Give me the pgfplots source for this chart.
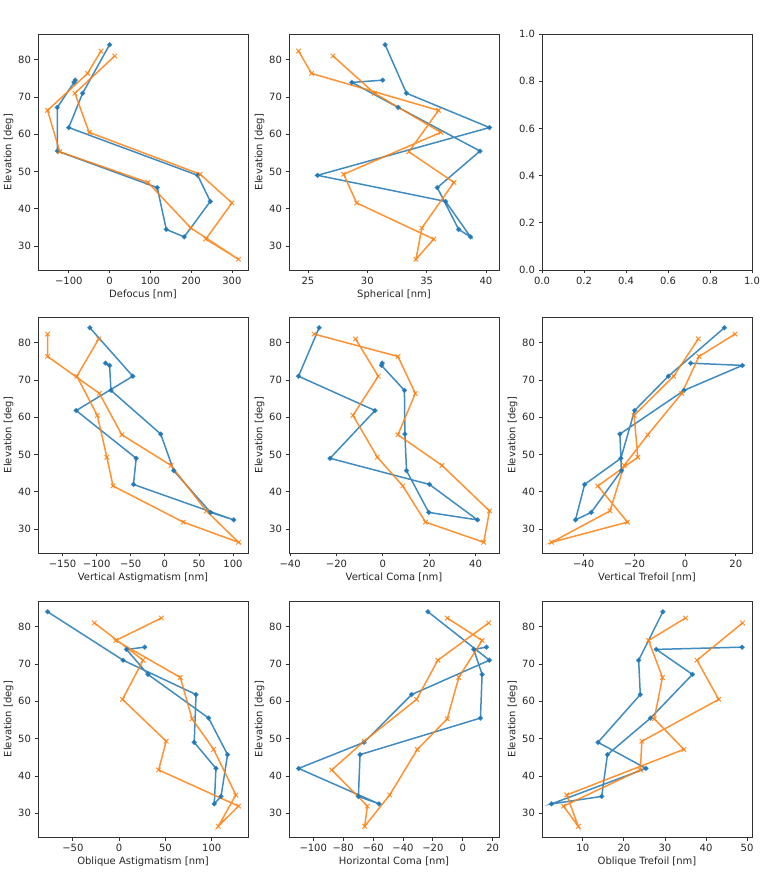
\documentclass[border=0pt]{standalone}
\usepackage{fontspec}
\setmainfont{DejaVu Sans}
\usepackage{pgfplots}
\usepackage{pgfplotstable}
\pgfplotsset{compat=1.18}
\definecolor{mblue}{HTML}{1F77B4}
\definecolor{morange}{HTML}{FF7F0E}

% columns: el defocus spherical vastig vcoma vtrefoil oastig hcoma otrefoil
\pgfplotstableread{
el   def  sph  vas  vco   vtr   oas    hco    otr
84.0 0    31.5 -110 -27.5 15.5  -77.3  -23.3  29.5
71.0 -66  33.3 -47  -36.4 -6.6  4.3    17.8   23.6
61.8 -100 40.3 -130 -3.4  -19.9 83.0   -34.2  24.0
49.0 216  25.8 -42  -22.8 -25.3 81.0   -66.0  13.7
42.0 247  36.6 -46  20.1  -39.6 104.5  -109.8 25.4
32.5 183  38.7 101  40.8  -43.2 102.7  -56.0  2.4
34.5 139  37.7 67   19.8  -37.0 110.0  -69.8  14.6
45.7 117  35.9 13   10.2  -25.1 117.0  -68.7  16.0
55.5 -128 39.5 -6   9.5   -25.7 96.6   11.8   26.5
67.2 -128 32.6 -79  9.3   -0.4  31.1   12.9   36.7
73.9 -87  28.7 -81  -0.6  22.6  7.9    7.3    27.9
74.5 -84  31.3 -87  -0.3  2.2   27.6   15.8   48.8
}\tblue
\pgfplotstableread{
el   def  sph  vas  vco   vtr   oas    hco    otr
82.3 -21  24.2 -172 -29.7 19.7  45.5   -10.4  35.0
76.3 -54  25.3 -172 6.5   5.5   -3.6   12.9   26.0
66.4 -152 36.0 -96  14.0  -1.3  66.0   -2.7   29.4
55.3 -122 33.5 -63  6.5   -14.7 78.7   -10.4  27.4
47.1 94   37.3 9    25.5  -24.0 102.0  -30.4  34.6
34.9 199  34.6 61   46.0  -29.6 126.0  -48.9  6.1
26.5 316  34.1 108  43.5  -52.6 107.0  -65.6  8.9
31.9 236  35.6 27   18.4  -22.7 128.8  -63.8  5.3
41.6 300  29.1 -76  8.6   -34.4 42.6   -87.6  24.0
49.3 222  28.0 -85  -2.4  -18.6 50.8   -66.0  24.4
60.5 -50  36.2 -99  -12.9 -20.1 3.6    -30.9  43.1
71.0 -85  30.6 -129 -2.0  -4.5  25.8   -16.7  37.8
81.0 13   27.1 -97  -11.8 5.2   -26.8  17.3   48.9
}\torange

\pgfplotsset{
  panel/.style={
    width=210pt, height=236pt, scale only axis,
    axis line style={black!80, line width=0.8pt},
    tick style={black!80, line width=0.8pt},
    tick align=outside, major tick length=3.5pt,
    xtick pos=bottom, ytick pos=left,
    ymin=23.625, ymax=86.875,
    ytick={30,40,50,60,70,80},
    ylabel={Elevation [deg]},
    /pgf/number format/assume math mode=true,
    ticklabel style={font=\fontsize{10}{12}\selectfont, text=black!85},
    label style={font=\fontsize{10}{12}\selectfont, text=black!85},
    xlabel style={yshift=2pt},
    ylabel style={yshift=-2pt},
    anchor=south west,
  },
  sb/.style={color=mblue, line width=1.5pt, opacity=0.85, mark=*, mark size=1.7pt, mark options={solid}},
  so/.style={color=morange, line width=1.5pt, opacity=0.85, mark=x, mark size=3.2pt, mark options={solid, line width=1pt}},
}

\begin{document}
\begin{tikzpicture}
\path[use as bounding box] (0,0) rectangle (763pt,875pt);

% Row 1
\begin{axis}[panel, at={(38pt,605pt)}, xmin=-175.4, xmax=339.4,
  xtick={-100,0,100,200,300}, xticklabels={−100,0,100,200,300}, xlabel={Defocus [nm]}]
\addplot[sb] table[x=def, y=el]{\tblue};
\addplot[so] table[x=def, y=el]{\torange};
\end{axis}

\begin{axis}[panel, at={(289pt,605pt)}, xmin=23.4, xmax=41.1,
  xtick={25,30,35,40}, xlabel={Spherical [nm]}]
\addplot[sb] table[x=sph, y=el]{\tblue};
\addplot[so] table[x=sph, y=el]{\torange};
\end{axis}

\begin{axis}[panel, at={(542pt,605pt)}, xmin=0, xmax=1, ymin=0, ymax=1,
  xtick={0,0.2,0.4,0.6,0.8,1}, ytick={0,0.2,0.4,0.6,0.8,1},
  xticklabels={0.0,0.2,0.4,0.6,0.8,1.0}, yticklabels={0.0,0.2,0.4,0.6,0.8,1.0},
  ylabel={}]
\end{axis}

% Row 2
\begin{axis}[panel, at={(38pt,322pt)}, xmin=-186, xmax=122,
  xtick={-150,-100,-50,0,50,100}, xticklabels={−150,−100,−50,0,50,100}, xlabel={Vertical Astigmatism [nm]}]
\addplot[sb] table[x=vas, y=el]{\tblue};
\addplot[so] table[x=vas, y=el]{\torange};
\end{axis}

\begin{axis}[panel, at={(289pt,322pt)}, xmin=-40.5, xmax=50.1,
  xtick={-40,-20,0,20,40}, xticklabels={−40,−20,0,20,40}, xlabel={Vertical Coma [nm]}]
\addplot[sb] table[x=vco, y=el]{\tblue};
\addplot[so] table[x=vco, y=el]{\torange};
\end{axis}

\begin{axis}[panel, at={(542pt,322pt)}, xmin=-56.4, xmax=26.4,
  xtick={-40,-20,0,20}, xticklabels={−40,−20,0,20}, xlabel={Vertical Trefoil [nm]}]
\addplot[sb] table[x=vtr, y=el]{\tblue};
\addplot[so] table[x=vtr, y=el]{\torange};
\end{axis}

% Row 3
\begin{axis}[panel, at={(38pt,38pt)}, xmin=-87.6, xmax=139.1,
  xtick={-50,0,50,100}, xticklabels={−50,0,50,100}, xlabel={Oblique Astigmatism [nm]}]
\addplot[sb] table[x=oas, y=el]{\tblue};
\addplot[so] table[x=oas, y=el]{\torange};
\end{axis}

\begin{axis}[panel, at={(289pt,38pt)}, xmin=-116.2, xmax=24.2,
  xtick={-100,-80,-60,-40,-20,0,20}, xticklabels={−100,−80,−60,−40,−20,0,20}, xlabel={Horizontal Coma [nm]}]
\addplot[sb] table[x=hco, y=el]{\tblue};
\addplot[so] table[x=hco, y=el]{\torange};
\end{axis}

\begin{axis}[panel, at={(542pt,38pt)}, xmin=0.07, xmax=51.2,
  xtick={10,20,30,40,50}, xlabel={Oblique Trefoil [nm]}]
\addplot[sb] table[x=otr, y=el]{\tblue};
\addplot[so] table[x=otr, y=el]{\torange};
\end{axis}
\end{tikzpicture}
\end{document}
